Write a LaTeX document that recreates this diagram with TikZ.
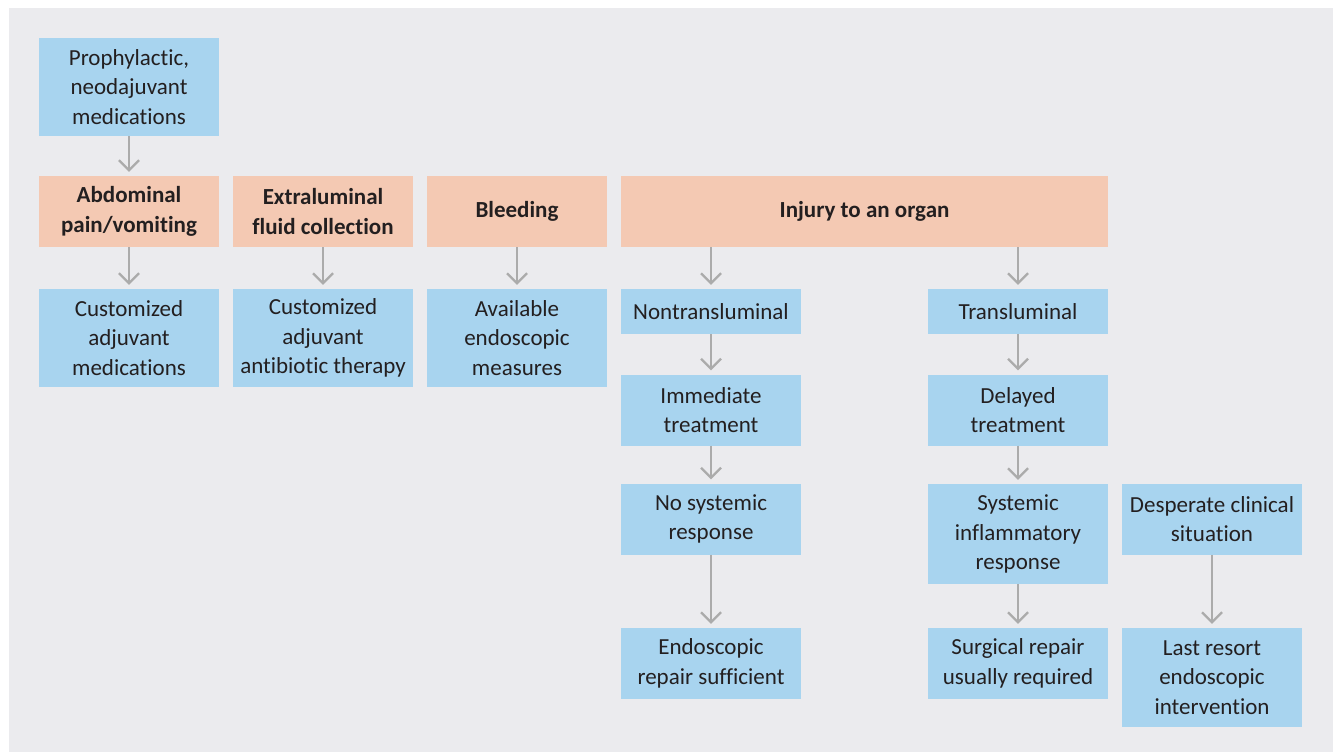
\documentclass[tikz,border=0pt]{standalone}
\usepackage{fontspec}
\setmainfont{Carlito}[Ligatures=NoCommon]
\usetikzlibrary{arrows.meta}

\definecolor{bggrey}{HTML}{EBEBEE}
\definecolor{boxblue}{HTML}{A8D4EF}
\definecolor{boxorange}{HTML}{F4C9B3}
\definecolor{arrowgrey}{HTML}{ABABAB}
\definecolor{txtdark}{HTML}{231F20}

\begin{document}
\begin{tikzpicture}[x=1pt, y=-1pt,
  box/.style={rectangle, inner sep=0pt, minimum width=180pt, align=center,
    text=txtdark, font=\fontsize{23}{29.5}\selectfont},
  bluebox/.style={box, fill=boxblue},
  eventbox/.style={box, fill=boxorange, minimum height=71pt,
    font=\fontsize{23}{29.5}\selectfont\bfseries},
  flow/.style={draw=arrowgrey, line width=2.2pt, shorten >=4pt,
    -{Straight Barb[length=10pt, width=20pt, line width=2.2pt]}}]

  % --- background ---
  \fill[white] (0,0) rectangle (1335,752);
  \fill[bggrey] (9,8) rectangle (1333,752);

  % --- top row ---
  \node[bluebox, minimum height=98pt] (proph) at (129,87)
        {Prophylactic,\\neodajuvant\\medications};

  % --- complications ---
  \node[eventbox] (pain)   at (129,211.5) {Abdominal\\pain/vomiting};
  \node[eventbox] (fluid)  at (323,211.5) {Extraluminal\\fluid collection};
  \node[eventbox] (bleed)  at (517,211.5) {Bleeding};
  \node[eventbox, minimum width=487pt] (injury) at (864.5,211.5) {Injury to an organ};

  % --- measures ---
  \node[bluebox, minimum height=98pt] (custmed) at (129,338)
        {Customized\\adjuvant\\medications};
  \node[bluebox, minimum height=98pt] (custab)  at (323,338)
        {Customized\\adjuvant\\antibiotic therapy};
  \node[bluebox, minimum height=98pt] (avail)   at (517,338)
        {Available\\endoscopic\\measures};

  % --- injury branches ---
  \node[bluebox, minimum height=45pt] (nontrans) at (711,311.5) {Nontransluminal};
  \node[bluebox, minimum height=45pt] (trans)    at (1018,311.5) {Transluminal};
  \node[bluebox, minimum height=71pt] (immed)    at (711,410) {Immediate\\treatment};
  \node[bluebox, minimum height=71pt] (delayed)  at (1018,410) {Delayed\\treatment};
  \node[bluebox, minimum height=71pt] (nosys)    at (711,519) {No systemic\\response};
  \node[bluebox, minimum height=100pt] (sysinfl) at (1018,534)
        {Systemic\\inflammatory\\response};
  \node[bluebox, minimum height=71pt] (desp)     at (1212,519)
        {Desperate clinical\\situation};
  \node[bluebox, minimum height=71pt] (endorep)  at (711,663.5)
        {Endoscopic\\repair sufficient};
  \node[bluebox, minimum height=71pt] (surg)     at (1018,663.5)
        {Surgical repair\\usually required};
  \node[bluebox, minimum height=99pt] (last)     at (1212,677.5)
        {Last resort\\endoscopic\\intervention};

  % --- connectors ---
  \draw[flow] (proph) -- (pain);
  \draw[flow] (pain) -- (custmed);
  \draw[flow] (fluid) -- (custab);
  \draw[flow] (bleed) -- (avail);
  \draw[flow] (injury.south -| nontrans.north) -- (nontrans.north);
  \draw[flow] (injury.south -| trans.north) -- (trans.north);
  \draw[flow] (nontrans) -- (immed);
  \draw[flow] (immed) -- (nosys);
  \draw[flow] (nosys) -- (endorep);
  \draw[flow] (trans) -- (delayed);
  \draw[flow] (delayed) -- (sysinfl);
  \draw[flow] (sysinfl) -- (surg);
  \draw[flow] (desp) -- (last);

\end{tikzpicture}
\end{document}
